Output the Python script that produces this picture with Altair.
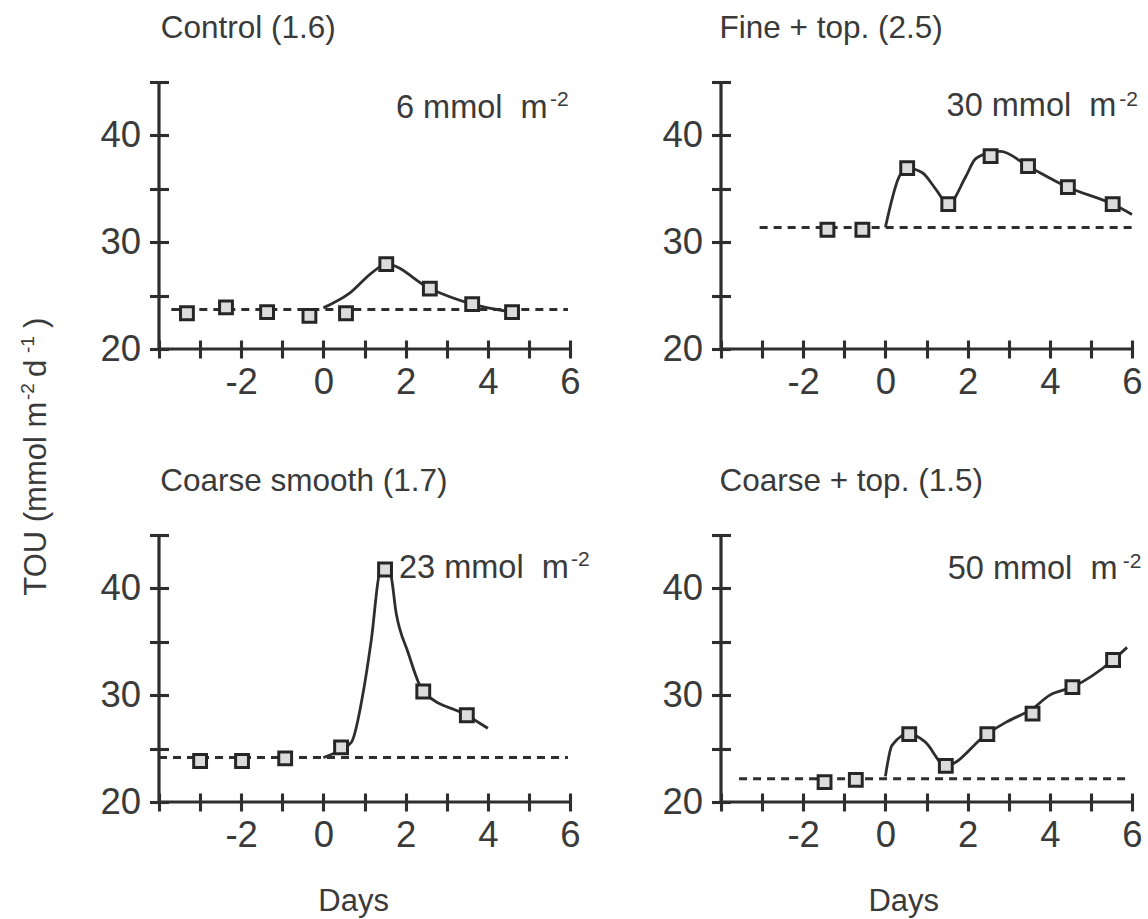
import altair as alt
import pandas as pd

FONT = "Liberation Sans"
TXT = "#3a3a3a"
INK = "#2e2e2e"
W, H = 411, 267

# ---------------- data ----------------
# Control (1.6)
p1_x = [-3.32, -2.37, -1.37, -0.34, 0.55, 1.53, 2.59, 3.62, 4.59]
p1_y = [23.35, 23.9, 23.45, 23.1, 23.35, 27.95, 25.66, 24.2, 23.45]
c1_x = [0.0, 0.63, 1.2, 1.53, 2.59, 3.62, 4.59]
c1_y = [23.85, 25.2, 27.2, 27.95, 25.66, 24.2, 23.45]
b1 = [-3.7, 5.95, 23.7]

# Fine + top. (2.5)
p2_x = [-1.41, -0.56, 0.53, 1.53, 2.56, 3.47, 4.44, 5.53]
p2_y = [31.17, 31.17, 36.93, 33.57, 38.06, 37.12, 35.15, 33.57]
c2_x = [0.0, 0.33, 0.53, 0.9, 1.22, 1.53, 1.95, 2.19, 2.56, 2.8, 3.47, 4.44, 5.53, 6.0]
c2_y = [31.4, 36.1, 36.93, 36.5, 35.0, 33.57, 36.1, 37.8, 38.4, 38.5, 37.12, 35.15, 33.57, 32.6]
b2 = [-3.06, 6.0, 31.38]

# Coarse smooth (1.7)
p3_x = [-3.0, -1.98, -0.93, 0.43, 1.5, 2.43, 3.49]
p3_y = [23.84, 23.84, 24.09, 25.12, 41.77, 30.35, 28.12]
c3_x = [0.0, 0.43, 0.69, 0.97, 1.17, 1.38, 1.5, 1.63, 1.77, 2.06, 2.43, 3.49, 4.0]
c3_y = [24.16, 24.9, 25.65, 30.3, 35.3, 41.6, 41.9, 41.4, 37.7, 34.0, 30.35, 28.12, 26.9]
b3 = [-4.0, 5.95, 24.16]

# Coarse + top. (1.5)
p4_x = [-1.48, -0.72, 0.58, 1.47, 2.48, 3.58, 4.55, 5.54]
p4_y = [21.86, 22.07, 26.35, 23.38, 26.35, 28.28, 30.76, 33.3]
c4_x = [0.0, 0.16, 0.58, 0.96, 1.47, 2.48, 2.95, 3.58, 3.99, 4.55, 5.54, 5.88]
c4_y = [22.4, 25.3, 26.4, 25.65, 23.4, 26.4, 27.5, 28.74, 29.98, 30.76, 33.3, 34.48]
b4 = [-3.56, 5.88, 22.17]

titles = ["Control (1.6)", "Fine + top. (2.5)", "Coarse smooth (1.7)", "Coarse + top. (1.5)"]
amounts = ["6", "30", "23", "50"]

x_ticks = [-4, -3, -2, -1, 0, 1, 2, 3, 4, 5, 6]
y_ticks = [20, 25, 30, 35, 40, 45]

# ---------------- helpers ----------------
xs = alt.Scale(domain=[-4, 6], nice=False, zero=False)
ys = alt.Scale(domain=[20, 45], nice=False, zero=False)

x_axis = alt.Axis(values=x_ticks,
                  labelExpr="(datum.value > -4 && datum.value % 2 == 0) ? '' + datum.value : ''",
                  domain=False, grid=False, tickSize=18, offset=-9, tickWidth=3.1,
                  tickColor=INK, labelFont=FONT, labelFontSize=36.5, labelColor=TXT,
                  labelPadding=6, title=None, labelFlush=False)
y_axis = alt.Axis(values=y_ticks,
                  labelExpr="datum.value % 10 == 0 ? '' + datum.value : ''",
                  domain=False, grid=False, tickSize=19, offset=-9.5, tickWidth=3.1,
                  tickColor=INK, labelFont=FONT, labelFontSize=36.5, labelColor=TXT,
                  labelPadding=9, title=None, labelFlush=False)

one = pd.DataFrame({"k": [0]})


def txt(text, x, y, size, align="left", angle=0):
    return alt.Chart(pd.DataFrame({"t": [text]})).mark_text(
        align=align, baseline="alphabetic", font=FONT, fontSize=size,
        color=TXT, angle=angle
    ).encode(x=alt.value(x), y=alt.value(y), text="t:N")


def panel(px, py, cx, cy, base, title, amount, title_x, amt_x, amt_y, sup_x, sup_y, extra=()):
    pts = pd.DataFrame({"x": px, "y": py})
    crv = pd.DataFrame({"x": cx, "y": cy})
    bdf = pd.DataFrame({"x0": [base[0]], "x1": [base[1]], "y": [base[2]]})

    dashed = alt.Chart(bdf).mark_rule(color=INK, strokeWidth=2.9, strokeDash=[8, 6]).encode(
        x=alt.X("x0:Q", scale=xs, axis=x_axis), x2="x1:Q",
        y=alt.Y("y:Q", scale=ys, axis=y_axis))
    curve = alt.Chart(crv).mark_line(color=INK, strokeWidth=2.8, interpolate="monotone").encode(
        x=alt.X("x:Q", scale=xs, axis=x_axis), y=alt.Y("y:Q", scale=ys, axis=y_axis))
    squares = alt.Chart(pts).mark_point(shape="square", fill="#dcdcdc", stroke="#262626",
                                        strokeWidth=3, size=165, opacity=1, fillOpacity=1).encode(
        x=alt.X("x:Q", scale=xs, axis=x_axis), y=alt.Y("y:Q", scale=ys, axis=y_axis))
    yline = alt.Chart(one).mark_rule(color=INK, strokeWidth=3.2).encode(
        x=alt.value(0), y=alt.value(0), y2=alt.value(H))
    xline = alt.Chart(one).mark_rule(color=INK, strokeWidth=3.2).encode(
        x=alt.value(0), x2=alt.value(W), y=alt.value(H))

    layers = [dashed, curve, squares, yline, xline,
              txt(title, title_x, -44, 31.5),
              txt(amount + " mmol\u00a0\u00a0m", amt_x, amt_y, 32.5),
              txt("-2", sup_x, sup_y, 21)]
    layers += list(extra)
    return alt.layer(*layers).properties(width=W, height=H)


ytitle = [
    txt("TOU (mmol m", -113.5, 513.7, 31, angle=270),
    txt("-2", -125, 318, 19, angle=270),
    txt("d", -113.5, 295, 31, angle=270),
    txt("-1", -125, 271, 19, angle=270),
    txt(")", -113.5, 246, 31, angle=270),
]

c1 = panel(p1_x, p1_y, c1_x, c1_y, b1, titles[0], amounts[0], 1.7, 237, 36.3, 391, 23.7, ytitle)
c2 = panel(p2_x, p2_y, c2_x, c2_y, b2, titles[1], amounts[1], -1.5, 225.6, 33.7, 398.3, 23.7)
c3 = panel(p3_x, p3_y, c3_x, c3_y, b3, titles[2], amounts[2], 1.3, 240, 43.3, 412, 30.7,
           [txt("Days", 194.6, H + 109.3, 31, align="center")])
c4 = panel(p4_x, p4_y, c4_x, c4_y, b4, titles[3], amounts[3], -1.6, 226.7, 44.3, 401.7, 33.3,
           [txt("Days", 182.7, H + 109.3, 31, align="center")])

chart = alt.concat(c1, c2, c3, c4, columns=2, spacing={"row": 186, "column": 151},
                   bounds="flush").properties(
    padding={"left": 19, "top": 13, "right": 0, "bottom": 0},
    background="white",
).configure_view(stroke=None)

chart.save("out.html", embed_options={"renderer": "svg", "actions": False})
